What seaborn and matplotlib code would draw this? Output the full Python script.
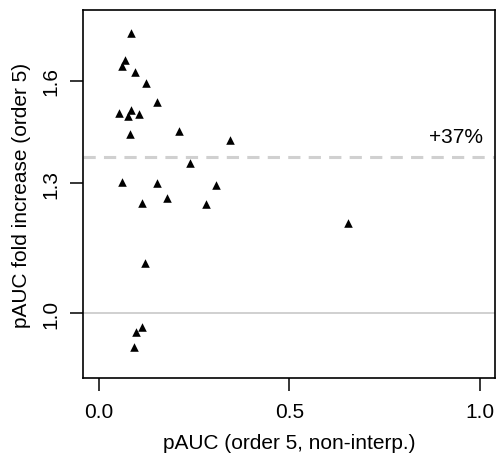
import matplotlib
matplotlib.use("Agg")
import matplotlib.pyplot as plt
import seaborn as sns
import pandas as pd
import numpy as np
from matplotlib.ticker import FixedLocator, FixedFormatter, NullLocator

pauc = [0.084, 0.0675, 0.0596, 0.0937, 0.1234, 0.1522, 0.0517, 0.0848, 0.0769,
        0.1058, 0.0814, 0.210, 0.3438, 0.238, 0.0596, 0.1522, 0.307, 0.112,
        0.1785, 0.280, 0.1207, 0.112, 0.098, 0.0919, 0.655]
fold = [1.762, 1.668, 1.649, 1.627, 1.592, 1.533, 1.498, 1.509, 1.491,
        1.495, 1.436, 1.446, 1.419, 1.355, 1.303, 1.301, 1.296, 1.249,
        1.262, 1.247, 1.106, 0.973, 0.963, 0.934, 1.200]
ref_line = 1.0
mean_increase = 1.37
x_ticks = [0.0, 0.5, 1.0]
y_ticks = [1.0, 1.3, 1.6]
annot = "+37%"
xlabel = "pAUC (order 5, non-interp.)"
ylabel = "pAUC fold increase (order 5)"

df = pd.DataFrame({"pauc": pauc, "fold": fold})

sns.set_style("white")
plt.rcParams["font.family"] = ["Liberation Sans", "DejaVu Sans"]
plt.rcParams["text.color"] = "black"
plt.rcParams["axes.labelcolor"] = "black"
plt.rcParams["xtick.color"] = "black"
plt.rcParams["ytick.color"] = "black"

FS = 15

fig = plt.figure(figsize=(4.97, 4.56), dpi=100)
ax = fig.add_axes([83/497, 1 - 379/456, (495 - 83)/497, (379 - 11)/456])

ax.set_yscale("log")
ax.axhline(ref_line, color="#c8c8c8", lw=1.2, zorder=1)
ax.axhline(mean_increase, color="#d0d0d0", lw=2.2, ls=(0, (4.0, 2.7)), zorder=1)

sns.scatterplot(data=df, x="pauc", y="fold", marker="^", color="black",
                s=38, linewidth=0, ax=ax, zorder=3)

ax.set_xlim(-0.042, 1.04)
ax.set_ylim(0.877, 1.846)

ax.xaxis.set_major_locator(FixedLocator(x_ticks))
ax.xaxis.set_major_formatter(FixedFormatter([f"{v:.1f}" for v in x_ticks]))
ax.yaxis.set_major_locator(FixedLocator(y_ticks))
ax.yaxis.set_major_formatter(FixedFormatter([f"{v:.1f}" for v in y_ticks]))
ax.yaxis.set_minor_locator(NullLocator())
ax.xaxis.set_minor_locator(NullLocator())

ax.tick_params(axis="both", which="major", direction="out", length=9.5,
               width=1.1, color="black", labelcolor="black", labelsize=FS,
               pad=6.5, bottom=True, left=True, top=False, right=False)
ax.tick_params(axis="x", pad=8)
for lab in ax.get_yticklabels():
    lab.set_rotation(90)
    lab.set_va("center")

for sp in ax.spines.values():
    sp.set_visible(True)
    sp.set_color("black")
    sp.set_linewidth(1.2)

ax.set_xlabel(xlabel, fontsize=FS, labelpad=8.5)
ax.set_ylabel(ylabel, fontsize=FS, labelpad=8)

ax.text(1.008, mean_increase * np.exp(15 / 494.3), annot, ha="right",
        va="baseline", fontsize=FS)

fig.savefig("out.png", dpi=100)
